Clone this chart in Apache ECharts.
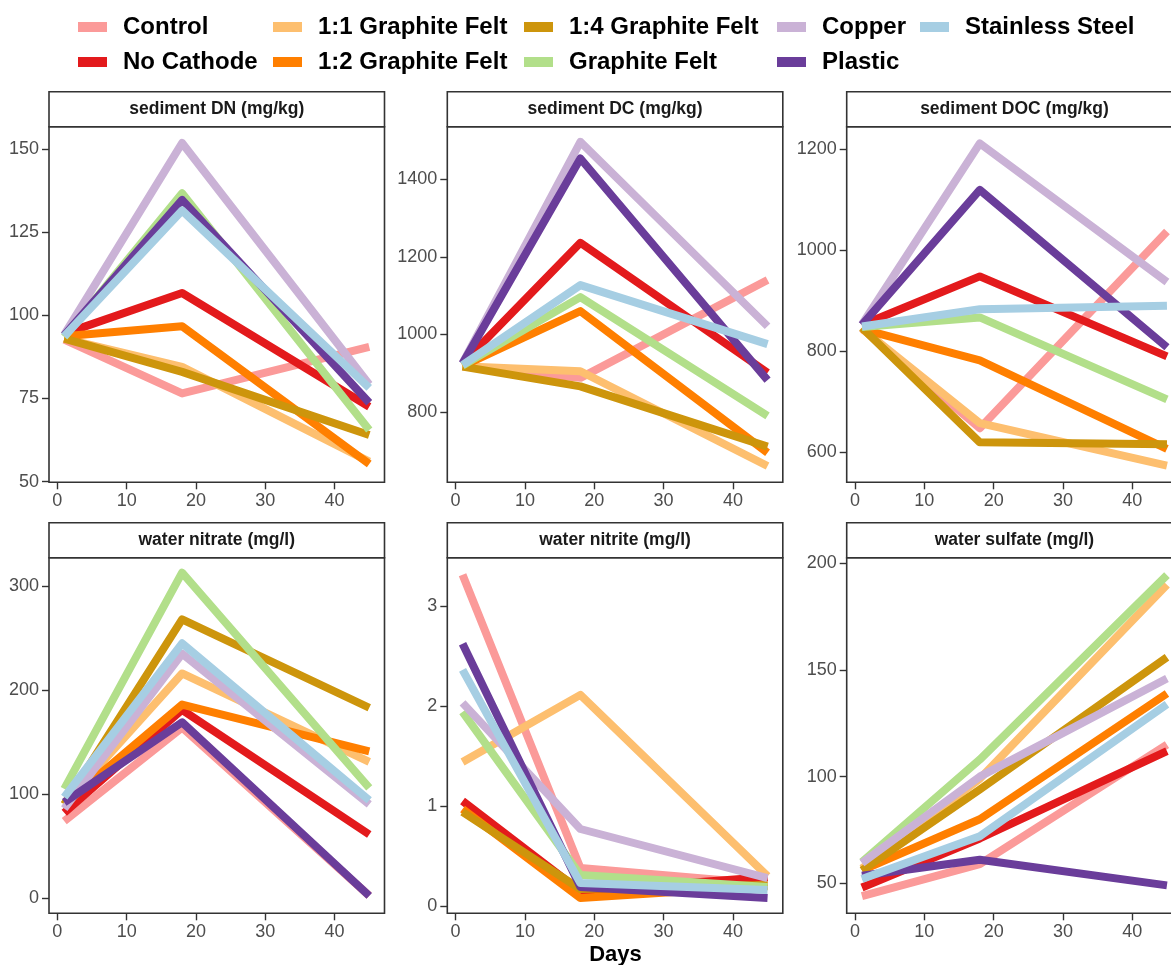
<!DOCTYPE html>
<html>
<head>
<meta charset="utf-8">
<script src="https://cdn.jsdelivr.net/npm/echarts@6/dist/echarts.min.js"></script>
<style>
  html, body { margin: 0; padding: 0; background: #fff; }
  #chart { width: 1171px; height: 965px; }
</style>
</head>
<body>
<div id="chart"></div>
<script>
// ---------- DATA ----------
const days = [1, 18, 45];
const seriesNames = ['Control', 'No Cathode', '1:1 Graphite Felt', '1:2 Graphite Felt', '1:4 Graphite Felt', 'Graphite Felt', 'Copper', 'Plastic', 'Stainless Steel'];
const seriesColors = ['#FB9A99', '#E31A1C', '#FDBF6F', '#FF7F00', '#CD950C', '#B2DF8A', '#CAB2D6', '#6A3D9A', '#A6CEE3'];
const panelTitles = ['sediment DN (mg/kg)', 'sediment DC (mg/kg)', 'sediment DOC (mg/kg)', 'water nitrate (mg/l)', 'water nitrite (mg/l)', 'water sulfate (mg/l)'];

// each row: one series (order of seriesNames), values at days 1, 18, 45
const sedimentDN = [
  [92.7, 76.5, 90.5],
  [94.5, 106.7, 72.5],
  [93.0, 84.5, 56.0],
  [93.7, 96.7, 55.3],
  [93.0, 83.0, 64.0],
  [93.5, 136.7, 65.5],
  [94.2, 151.8, 79.2],
  [94.0, 134.7, 73.7],
  [93.7, 131.5, 78.2]
];
const sedimentDC = [
  [918, 888, 1140],
  [925, 1236, 901],
  [918, 905, 661],
  [918, 1060, 695],
  [917, 866, 711],
  [920, 1096, 790],
  [926, 1496, 1021],
  [925, 1453, 882],
  [921, 1127, 975]
];
const sedimentDOC = [
  [845, 648, 1037],
  [852, 948, 790],
  [845, 658, 574],
  [844, 782, 607],
  [847, 620, 616],
  [848, 867, 705],
  [853, 1211, 937],
  [852, 1119, 808],
  [849, 883, 890]
];
const waterNitrate = [
  [74, 164, 2],
  [82, 181, 61],
  [90, 216, 131],
  [90, 186, 141],
  [90, 268, 183],
  [105, 313, 106],
  [86, 235, 90],
  [92, 169, 2],
  [97, 245, 94]
];
const waterNitrite = [
  [3.31, 0.38, 0.22],
  [1.05, 0.15, 0.29],
  [1.44, 2.11, 0.30],
  [0.97, 0.08, 0.20],
  [0.94, 0.17, 0.21],
  [1.94, 0.31, 0.19],
  [2.03, 0.77, 0.28],
  [2.62, 0.19, 0.08],
  [2.36, 0.23, 0.16]
];
const waterSulfate = [
  [44, 59, 115],
  [48, 71, 112],
  [57, 99, 190],
  [56, 80, 139],
  [56, 94, 156],
  [60, 108, 194.5],
  [59.5, 100, 146],
  [53.5, 61, 49],
  [52, 72, 134]
];

// tick labels
const xTicks = [0, 10, 20, 30, 40];
const dnTicks = [50, 75, 100, 125, 150];
const dcTicks = [800, 1000, 1200, 1400];
const docTicks = [600, 800, 1000, 1200];
const nitrateTicks = [0, 100, 200, 300];
const nitriteTicks = [0, 1, 2, 3];
const sulfateTicks = [50, 100, 150, 200];

// axis ranges (as in the reference)
const xRange = [-1.2, 47.2];
const dnRange = [49.8, 156.7];
const dcRange = [619, 1535];
const docRange = [541, 1244];
const nitrateRange = [-14.8, 327.4];
const nitriteRange = [-0.072, 3.48];
const sulfateRange = [35.9, 202.7];

// ---------- LAYOUT ----------
const colLeft = [49, 447.3, 846.7];
const rowTop = [126.7, 557.7];
const plotW = 335.5;
const plotH = 355.6;
const stripH = 35;
const FONT = '"Liberation Sans", Arial, sans-serif';

const panelData = [sedimentDN, sedimentDC, sedimentDOC, waterNitrate, waterNitrite, waterSulfate];
const panelTicks = [dnTicks, dcTicks, docTicks, nitrateTicks, nitriteTicks, sulfateTicks];
const panelRanges = [dnRange, dcRange, docRange, nitrateRange, nitriteRange, sulfateRange];

const grids = [], xAxes = [], yAxes = [], series = [], graphics = [];

panelTitles.forEach((title, p) => {
  const left = colLeft[p % 3];
  const top = rowTop[Math.floor(p / 3)];
  grids.push({
    left: left, top: top, width: plotW, height: plotH,
    show: true, borderColor: '#333', borderWidth: 1.6, backgroundColor: 'transparent',
    containLabel: false, outerBoundsMode: 'none'
  });
  const axisCommon = {
    gridIndex: p,
    axisLine: { show: false, onZero: false },
    splitLine: { show: false },
    axisTick: { show: true, inside: false, length: 7, lineStyle: { color: '#333', width: 1.4 } },
    axisLabel: { color: '#4D4D4D', fontSize: 18, fontFamily: FONT, margin: 10, hideOverlap: false,
                 formatter: v => String(v) }
  };
  xAxes.push(Object.assign({}, axisCommon, {
    type: 'value', min: xRange[0], max: xRange[1], position: 'bottom',
    axisTick: Object.assign({}, axisCommon.axisTick, { customValues: xTicks }),
    axisLabel: Object.assign({}, axisCommon.axisLabel, { customValues: xTicks })
  }));
  const rng = panelRanges[p];
  yAxes.push(Object.assign({}, axisCommon, {
    type: 'value', min: rng[0], max: rng[1], position: 'left',
    axisTick: Object.assign({}, axisCommon.axisTick, { customValues: panelTicks[p] }),
    axisLabel: Object.assign({}, axisCommon.axisLabel, { customValues: panelTicks[p] })
  }));
  panelData[p].forEach((vals, s) => {
    series.push({
      name: seriesNames[s],
      type: 'line',
      xAxisIndex: p, yAxisIndex: p,
      data: days.map((d, i) => [d, vals[i]]),
      showSymbol: false, symbol: 'none',
      lineStyle: { color: seriesColors[s], width: 8, cap: 'butt', join: 'round' },
      itemStyle: { color: seriesColors[s] },
      z: 2 + s,
      animation: false,
      silent: true
    });
  });
  // strip
  graphics.push({
    type: 'rect',
    shape: { x: left, y: top - stripH, width: plotW, height: stripH },
    style: { fill: '#fff', stroke: '#333', lineWidth: 1.6 },
    z: 10
  });
  graphics.push({
    type: 'text',
    x: left + plotW / 2, y: top - stripH / 2,
    style: {
      text: title, font: 'bold 17.5px ' + FONT, fill: '#1A1A1A',
      align: 'center', verticalAlign: 'middle',
      textAlign: 'center', textVerticalAlign: 'middle'
    },
    z: 11
  });
});

graphics.push({
  type: 'text',
  x: 615.5, y: 955,
  style: {
    text: 'Days', font: 'bold 22px ' + FONT, fill: '#000',
    align: 'center', verticalAlign: 'middle',
    textAlign: 'center', textVerticalAlign: 'middle'
  }
});

// legend columns (filled column-wise, 2 rows)
const legendCols = [[0, 1], [2, 3], [4, 5], [6, 7], [8]];
const legendLeft = [78, 273, 524, 777, 920];
const legends = legendCols.map((idxs, c) => ({
  orient: 'vertical',
  left: legendLeft[c], top: 15,
  itemWidth: 29, itemHeight: 10, itemGap: 11,
  icon: 'rect',
  data: idxs.map(i => ({ name: seriesNames[i], itemStyle: { color: seriesColors[i] } })),
  textStyle: { fontSize: 24, fontWeight: 'bold', color: '#000', fontFamily: FONT, lineHeight: 24, padding: [0, 0, 0, 11] },
  selectedMode: false,
  padding: 0
}));

const chart = echarts.init(document.getElementById('chart'), null, { renderer: 'canvas' });
chart.setOption({
  animation: false,
  backgroundColor: '#fff',
  legend: legends,
  grid: grids,
  xAxis: xAxes,
  yAxis: yAxes,
  series: series,
  graphic: graphics
});
</script>
</body>
</html>
